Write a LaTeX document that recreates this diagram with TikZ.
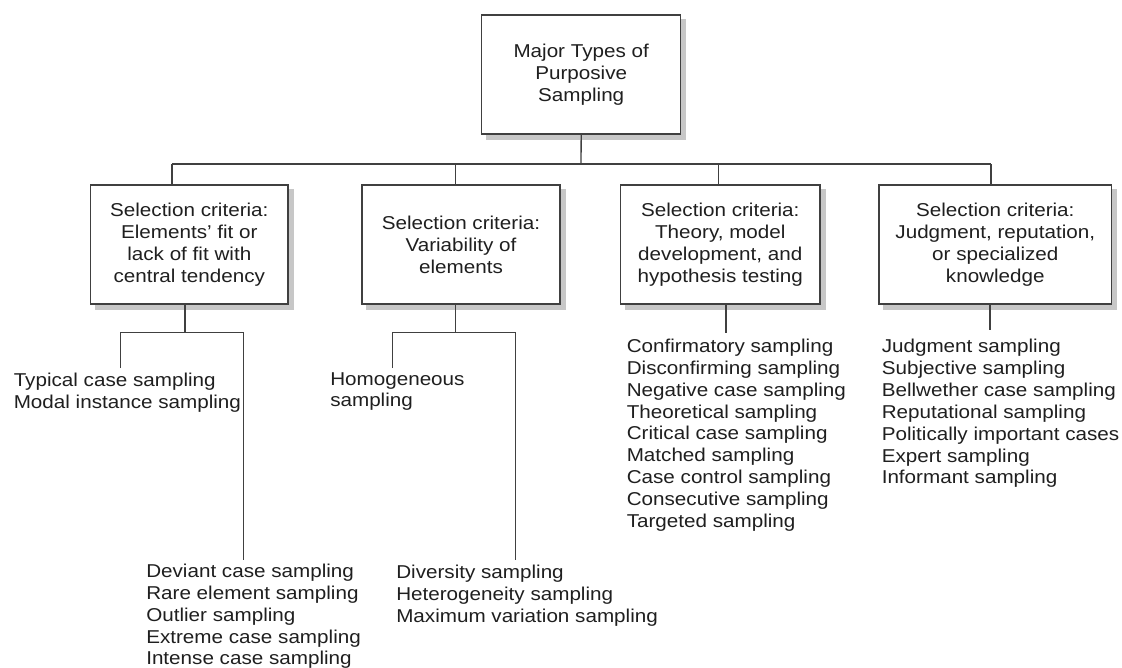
\documentclass[tikz,border=0pt]{standalone}
\usepackage{fontspec}
\setmainfont[FakeStretch=1.11]{Liberation Sans}
\usetikzlibrary{backgrounds}
\newcommand\diagfont{\fontsize{13.95}{16.4}\selectfont}
\newcommand\itemlist[1]{\begin{tabular}[t]{@{}l@{}}#1\end{tabular}}
\begin{document}
\begin{tikzpicture}[x=0.75pt,y=-0.75pt,
  box/.style={draw=black!75, line width=1pt, fill=white, text=black!88,
    align=center, inner sep=0pt, minimum height=89.25pt, font=\diagfont},
  shade/.style={fill=black!22},
  wire/.style={draw=black!75, line width=1pt},
  list/.style={anchor=base west, inner sep=0pt, text=black!88, font=\diagfont}]

\useasboundingbox (0,0) rectangle (1122,668);

% root and the four selection criteria
\node[box, minimum width=149.25pt] (top) at (581.2,74.5)
  {Major Types of\\Purposive\\Sampling};
\node[box, minimum width=148pt] (b1) at (189.3,244.5)
  {Selection criteria:\\Elements' fit or\\lack of fit with\\central tendency};
\node[box, minimum width=148.5pt] (b2) at (461,244.5)
  {Selection criteria:\\Variability of\\elements};
\node[box, minimum width=149.5pt] (b3) at (720.3,244.5)
  {Selection criteria:\\Theory, model\\development, and\\hypothesis testing};
\node[box, minimum width=174.5pt] (b4) at (995.3,244.5)
  {Selection criteria:\\Judgment, reputation,\\or specialized\\knowledge};

% drop shadows behind the boxes
\begin{scope}[on background layer]
  \fill[white] (0,0) rectangle (1122,668);
  \foreach \b in {top,b1,b2,b3,b4}
    \fill[shade] ([shift={(5,5)}]\b.north west) rectangle ([shift={(5,5)}]\b.south east);
\end{scope}

% sampling lists
\node[list] (l1a) at (13.5,386.5)
  {\itemlist{Typical case sampling\\Modal instance sampling}};
\node[list] (l1b) at (146,577.5)
  {\itemlist{Deviant case sampling\\Rare element sampling\\Outlier sampling\\Extreme case sampling\\Intense case sampling}};
\node[list] (l2a) at (330,385)
  {\itemlist{Homogeneous\\sampling}};
\node[list] (l2b) at (396,578.5)
  {\itemlist{Diversity sampling\\Heterogeneity sampling\\Maximum variation sampling}};
\node[list] (l3) at (626.5,352.5)
  {\itemlist{Confirmatory sampling\\Disconfirming sampling\\Negative case sampling\\Theoretical sampling\\Critical case sampling\\Matched sampling\\Case control sampling\\Consecutive sampling\\Targeted sampling}};
\node[list] (l4) at (881.5,352.7)
  {\itemlist{Judgment sampling\\Subjective sampling\\Bellwether case sampling\\Reputational sampling\\Politically important cases\\Expert sampling\\Informant sampling}};

% tree from the root to the criteria
\coordinate (bus) at (581,164);
\coordinate (t1) at (172,164);
\coordinate (t2) at (455.3,164);
\coordinate (t3) at (718.7,164);
\coordinate (t4) at (991,164);
\draw[wire] (top.south) -- (bus);
\draw[wire] (t1) -- (t4);
\foreach \i in {1,2,3,4} \draw[wire] (t\i) -- (t\i |- b\i.north);

% branches below the criteria
\coordinate (j1) at (185,332.7);
\coordinate (j1l) at (120.7,332.7);
\coordinate (j1r) at (243.3,332.7);
\coordinate (e1l) at (120.7,368);
\coordinate (e1r) at (243.3,560);
\draw[wire] (j1 |- b1.south) -- (j1);
\draw[wire] (e1l) -- (j1l) -- (j1r) -- (e1r);

\coordinate (j2) at (455.3,332.7);
\coordinate (j2l) at (392.7,332.7);
\coordinate (j2r) at (515.3,332.7);
\coordinate (e2l) at (392.7,368);
\coordinate (e2r) at (515.3,560);
\draw[wire] (j2 |- b2.south) -- (j2);
\draw[wire] (e2l) -- (j2l) -- (j2r) -- (e2r);

\coordinate (e3) at (726,332.7);
\draw[wire] (e3 |- b3.south) -- (e3);
\coordinate (e4) at (990,330);
\draw[wire] (e4 |- b4.south) -- (e4);
\end{tikzpicture}
\end{document}
